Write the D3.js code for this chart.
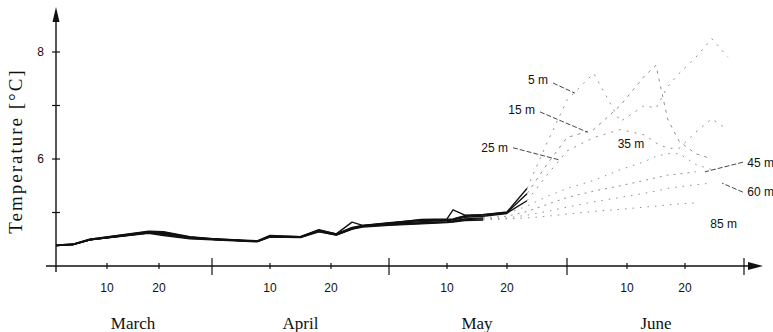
<!DOCTYPE html>
<html>
<head>
<meta charset="utf-8">
<script src="https://cdn.jsdelivr.net/npm/d3@7"></script>
<style>
  body { margin: 0; background: #fff; }
  svg text { fill: #111; }
</style>
</head>
<body>
<div id="chart"></div>
<script>
// days counted from 1 March
const days = [0, 3, 6, 17, 20, 26, 31, 38, 40, 45, 48, 51, 54, 56, 61, 66, 70, 71, 73, 76, 80,
              84, 88, 92, 96, 100, 104, 106, 108, 110, 113, 116, 119];

const t5  = [4.39,4.41,4.50,4.65,4.64,4.55,4.51,4.47,4.57,4.55,4.68,4.60,4.82,4.76,4.80,4.87,4.88,5.05,4.95,4.96,5.01,
             5.45,6.30,7.10,7.60,6.70,7.00,6.95,7.35,7.60,7.90,8.25,7.90];
const t15 = [4.39,4.41,4.50,4.64,4.63,4.54,4.51,4.46,4.56,4.55,4.67,4.60,4.72,4.76,4.81,4.86,4.87,4.88,4.94,4.96,5.00,
             5.35,5.90,6.40,6.55,7.00,7.55,7.75,6.75,6.33,6.10,6.00,null];
const t25 = [4.38,4.40,4.49,4.63,4.62,4.54,4.50,4.46,4.55,4.54,4.66,4.59,4.71,4.75,4.80,4.85,4.86,4.87,4.93,4.95,4.99,
             5.22,5.70,6.15,6.40,6.55,6.45,6.30,6.20,6.20,6.50,6.75,6.55];
const t35 = [4.38,4.40,4.49,4.63,4.61,4.53,4.50,4.46,4.55,4.54,4.66,4.59,4.70,4.75,4.79,4.83,4.85,4.86,4.91,4.93,4.98,
             5.12,5.30,5.45,5.60,5.80,5.95,6.05,6.10,6.10,5.90,5.80,null];
const t45 = [4.38,4.40,4.49,4.62,4.60,4.53,4.50,4.46,4.55,4.54,4.65,4.59,4.70,4.74,4.78,4.81,4.83,4.84,4.88,4.90,4.93,
             5.02,5.15,5.28,5.40,5.50,5.60,5.65,5.70,5.72,5.76,null,null];
const t60 = [4.38,4.40,4.49,4.62,4.59,4.52,4.50,4.46,4.55,4.54,4.65,4.58,4.69,4.74,4.77,4.80,4.82,4.83,4.87,4.88,4.90,
             4.95,5.02,5.10,5.20,5.28,5.36,5.40,5.45,5.48,5.52,5.55,null];
const t85 = [4.38,4.40,4.49,4.61,4.57,4.51,4.49,4.45,4.54,4.53,4.64,4.58,4.69,4.73,4.76,4.79,4.81,4.82,4.85,4.86,4.88,
             4.90,4.93,4.97,5.02,5.06,5.10,5.12,5.14,5.16,5.18,null,null];

const depths = ['5 m', '15 m', '25 m', '35 m', '45 m', '60 m', '85 m'];
const depthValues = [t5, t15, t25, t35, t45, t60, t85];
const solidUntil = [84, 84, 84, 80, 76, 76, 76];  // after this day the line is only dotted

// label anchor (day, temperature) and leader line ends
const labelAt = [[88.2, 7.48], [85.6, 6.92], [80.2, 6.22], [99.6, 6.28], [122.6, 5.94], [122.6, 5.38], [115.7, 4.79]];
const labelAnchor = ['end', 'end', 'end', 'start', 'start', 'start', 'start'];
const leaders = [
  [[89.2, 7.42], [93.2, 7.23]],
  [[86.6, 6.88], [95.1, 6.50]],
  [[81.2, 6.21], [90.6, 5.98]],
  null,
  [[121.8, 5.94], [114.7, 5.76]],
  [[121.8, 5.38], [117.9, 5.55]],
  null
];

const months = ['March', 'April', 'May', 'June'];
const monthStart = [0, 31, 61, 92];
const monthEnd = 122;
const tickDays = [10, 20];
const yTicks = [5, 6, 7, 8];
const yLabelled = [6, 8];

const width = 773, height = 332;

const svg = d3.select('#chart').append('svg')
  .attr('width', width)
  .attr('height', height);

// hand drawn time axis: month lengths are not equal on the original
const x = d3.scaleLinear()
  .domain([0, 9, 19, 31, 40, 50, 61, 70, 80, 92, 101, 111, 122])
  .range([56, 107, 159, 212, 270, 331, 389, 447, 507, 567, 627, 685, 744]);

const y = d3.scaleLinear()
  .domain([4, 8])
  .range([266, 52]);

const x0 = x(0), y0 = y(4);

// axes
svg.append('line')
  .attr('x1', x0).attr('x2', x0)
  .attr('y1', y0 + 6).attr('y2', 18)
  .attr('stroke', '#111').attr('stroke-width', 1.4);
svg.append('path')
  .attr('d', `M${x0},7 L${x0 - 3.5},22 L${x0 + 3.5},22 Z`)
  .attr('fill', '#111');

svg.append('line')
  .attr('x1', x0 - 10).attr('x2', 752)
  .attr('y1', y0).attr('y2', y0)
  .attr('stroke', '#111').attr('stroke-width', 1.4);
svg.append('path')
  .attr('d', `M763,${y0} L748,${y0 - 4} L748,${y0 + 4} Z`)
  .attr('fill', '#111');

// y ticks
svg.selectAll('.ytick')
  .data(yTicks)
  .enter().append('line')
  .attr('x1', x0 - 4).attr('x2', x0 + 4)
  .attr('y1', d => y(d)).attr('y2', d => y(d))
  .attr('stroke', '#111').attr('stroke-width', 1.2);

svg.selectAll('.ylab')
  .data(yLabelled)
  .enter().append('text')
  .attr('x', x0 - 12)
  .attr('y', d => y(d))
  .attr('dy', '0.36em')
  .attr('text-anchor', 'end')
  .style('font-family', 'Liberation Sans, Arial, sans-serif')
  .style('font-size', '12px')
  .text(d => d);

// month boundaries
svg.selectAll('.mtick')
  .data(monthStart.slice(1).concat([monthEnd]))
  .enter().append('line')
  .attr('x1', d => x(d)).attr('x2', d => x(d))
  .attr('y1', y0 - 8).attr('y2', y0 + 9)
  .attr('stroke', '#111').attr('stroke-width', 1.2);

// 10 and 20 of each month
const minor = [];
monthStart.forEach(m => tickDays.forEach(t => minor.push({ day: m + t - 1, label: t })));

svg.selectAll('.dtick')
  .data(minor)
  .enter().append('line')
  .attr('x1', d => x(d.day)).attr('x2', d => x(d.day))
  .attr('y1', y0 - 3).attr('y2', y0 + 3)
  .attr('stroke', '#111').attr('stroke-width', 1.2);

svg.selectAll('.dlab')
  .data(minor)
  .enter().append('text')
  .attr('x', d => x(d.day))
  .attr('y', y0 + 22)
  .attr('dy', '0.36em')
  .attr('text-anchor', 'middle')
  .style('font-family', 'Liberation Sans, Arial, sans-serif')
  .style('font-size', '12px')
  .text(d => d.label);

svg.selectAll('.month')
  .data(months)
  .enter().append('text')
  .attr('x', (d, i) => x(monthStart[i] + 14))
  .attr('y', 329)
  .attr('text-anchor', 'middle')
  .style('font-family', 'Liberation Serif, Times New Roman, serif')
  .style('font-size', '17px')
  .text(d => d);

svg.append('text')
  .attr('transform', 'translate(22,151) rotate(-90)')
  .attr('text-anchor', 'middle')
  .style('font-family', 'Liberation Serif, Times New Roman, serif')
  .style('font-size', '19px')
  .style('letter-spacing', '2px')
  .text('Temperature [°C]');

// temperature lines
const line = d3.line()
  .defined(p => p.v != null)
  .x(p => x(p.d))
  .y(p => y(p.v));

const dashes = ['2,6', '3,5', '2,6', '1.5,6', '2,5', '1.5,6', '1.5,6'];

depthValues.forEach((vals, i) => {
  const pts = days.map((d, k) => ({ d: d, v: vals[k] }));
  svg.append('path')
    .attr('d', line(pts.filter(p => p.d <= solidUntil[i])))
    .attr('fill', 'none')
    .attr('stroke', '#111')
    .attr('stroke-width', 1.4)
    .attr('stroke-linejoin', 'round');
  svg.append('path')
    .attr('d', line(pts.filter(p => p.d >= solidUntil[i])))
    .attr('fill', 'none')
    .attr('stroke', '#333')
    .attr('stroke-width', 0.9)
    .attr('stroke-dasharray', dashes[i])
    .attr('opacity', 0.6);
});

// depth labels and leaders
depths.forEach((name, i) => {
  svg.append('text')
    .attr('x', x(labelAt[i][0]))
    .attr('y', y(labelAt[i][1]))
    .attr('dy', '0.36em')
    .attr('text-anchor', labelAnchor[i])
    .style('font-family', 'Liberation Sans, Arial, sans-serif')
    .style('font-size', '12px')
    .text(name);
  if (leaders[i]) {
    svg.append('line')
      .attr('x1', x(leaders[i][0][0])).attr('y1', y(leaders[i][0][1]))
      .attr('x2', x(leaders[i][1][0])).attr('y2', y(leaders[i][1][1]))
      .attr('stroke', '#333')
      .attr('stroke-width', 0.9)
      .attr('stroke-dasharray', '5,2');
  }
});
</script>
</body>
</html>
